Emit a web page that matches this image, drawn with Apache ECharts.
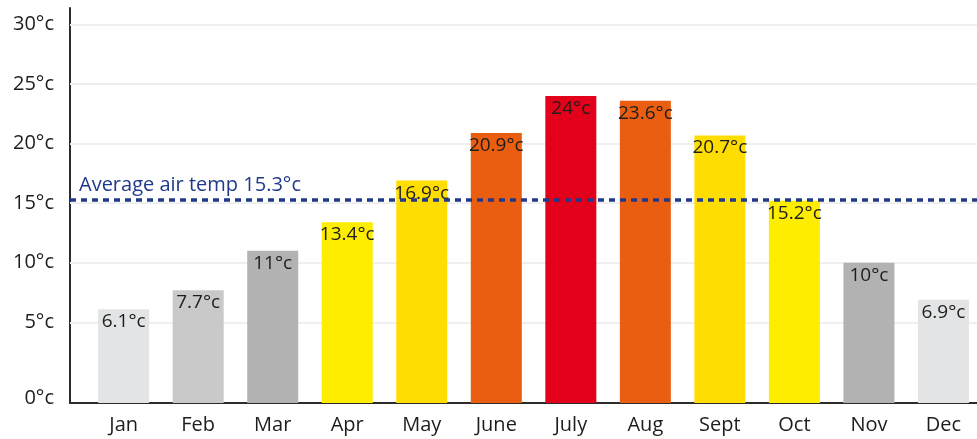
<!DOCTYPE html>
<html>
<head>
<meta charset="utf-8">
<script src="https://cdn.jsdelivr.net/npm/echarts@6/dist/echarts.min.js"></script>
<style>
  html, body { margin: 0; padding: 0; background: #fff; }
  #chart { width: 977px; height: 439px; }
</style>
</head>
<body>
<div id="chart"></div>
<script>
const months = ["Jan", "Feb", "Mar", "Apr", "May", "June", "July", "Aug", "Sept", "Oct", "Nov", "Dec"]
const temps = [6.1, 7.7, 11, 13.4, 16.9, 20.9, 24, 23.6, 20.7, 15.2, 10, 6.9]
const barColors = ["#e3e4e6", "#c9c9ca", "#b2b2b3", "#ffed00", "#ffdd00", "#e95e10",
                   "#e2001a", "#e95e10", "#ffdd00", "#ffed00", "#b2b2b3", "#e3e4e6"]
const tickValues = [0, 5, 10, 15, 20, 25, 30]
const tickLabels = ["0°c", "5°c", "10°c", "15°c", "20°c", "25°c", "30°c"]
const avgTemp = 15.3
const avgLabel = "Average air temp 15.3°c"

const yMin = -1.78
const yMax = 31.4
const font = "'Open Sans', 'Noto Sans', sans-serif"
const textColor = "#1d1d1b"
const blue = "#1f3a8a"

// the 0 label sits on the axis line, a little below the real zero
const labelPos = tickValues.map(v => v === 0 ? yMin + 0.4 : v)

let chart = echarts.init(document.getElementById("chart"), null, { renderer: "canvas" })
let data = []
for (let i = 0; i < temps.length; i++) {
    data.push({ value: [i, temps[i]], itemStyle: { color: barColors[i] } })
}

chart.setOption({
    animation: false,
    grid: { left: 70, right: 0, top: 8, bottom: 36, containLabel: false },
    xAxis: {
        type: "value",
        min: -0.72,
        max: 11.45,
        splitLine: { show: false },
        axisTick: { show: false },
        axisLine: { show: true, onZero: false, lineStyle: { color: "#2b2b2b", width: 2 } },
        axisLabel: {
            customValues: months.map((m, i) => i),
            formatter: v => months[Math.round(v)],
            color: textColor,
            fontFamily: font,
            fontSize: 20,
            margin: 12,
        },
    },
    yAxis: {
        type: "value",
        min: yMin,
        max: yMax,
        startValue: yMin,   // bars grow from the axis line
        axisLine: { show: true, onZero: false, lineStyle: { color: "#2b2b2b", width: 2 } },
        axisTick: { show: false },
        splitLine: { show: false },
        axisLabel: {
            customValues: labelPos,
            formatter: v => tickLabels[labelPos.indexOf(v)] || "",
            color: textColor,
            fontFamily: font,
            fontSize: 20,
            margin: 16,
        },
    },
    series: [
        {
            // faint gridlines from 5 to 30
            type: "line",
            data: [],
            z: 1,
            markLine: {
                silent: true,
                symbol: "none",
                z: 1,
                label: { show: false },
                lineStyle: { type: "solid", color: "#efefef", width: 2 },
                data: tickValues.filter(v => v > 0).map(v => ({ yAxis: v })),
            },
        },
        {
            type: "bar",
            barWidth: 51,
            z: 3,
            data: data,
            label: {
                show: true,
                position: "insideTop",
                distance: 3,
                formatter: p => p.value[1] + "°c",
                color: textColor,
                fontFamily: font,
                fontSize: 19,
                letterSpacing: -1.2,
            },
            markLine: {
                silent: true,
                symbol: "none",
                z: 4,
                lineStyle: { type: [6, 5], color: blue, width: 3.5 },
                label: {
                    show: true,
                    position: "insideStartTop",
                    formatter: avgLabel,
                    color: blue,
                    fontFamily: font,
                    fontSize: 20,
                    distance: [9, 4],
                },
                data: [{ yAxis: avgTemp }],
            },
        },
    ],
})
</script>
</body>
</html>
